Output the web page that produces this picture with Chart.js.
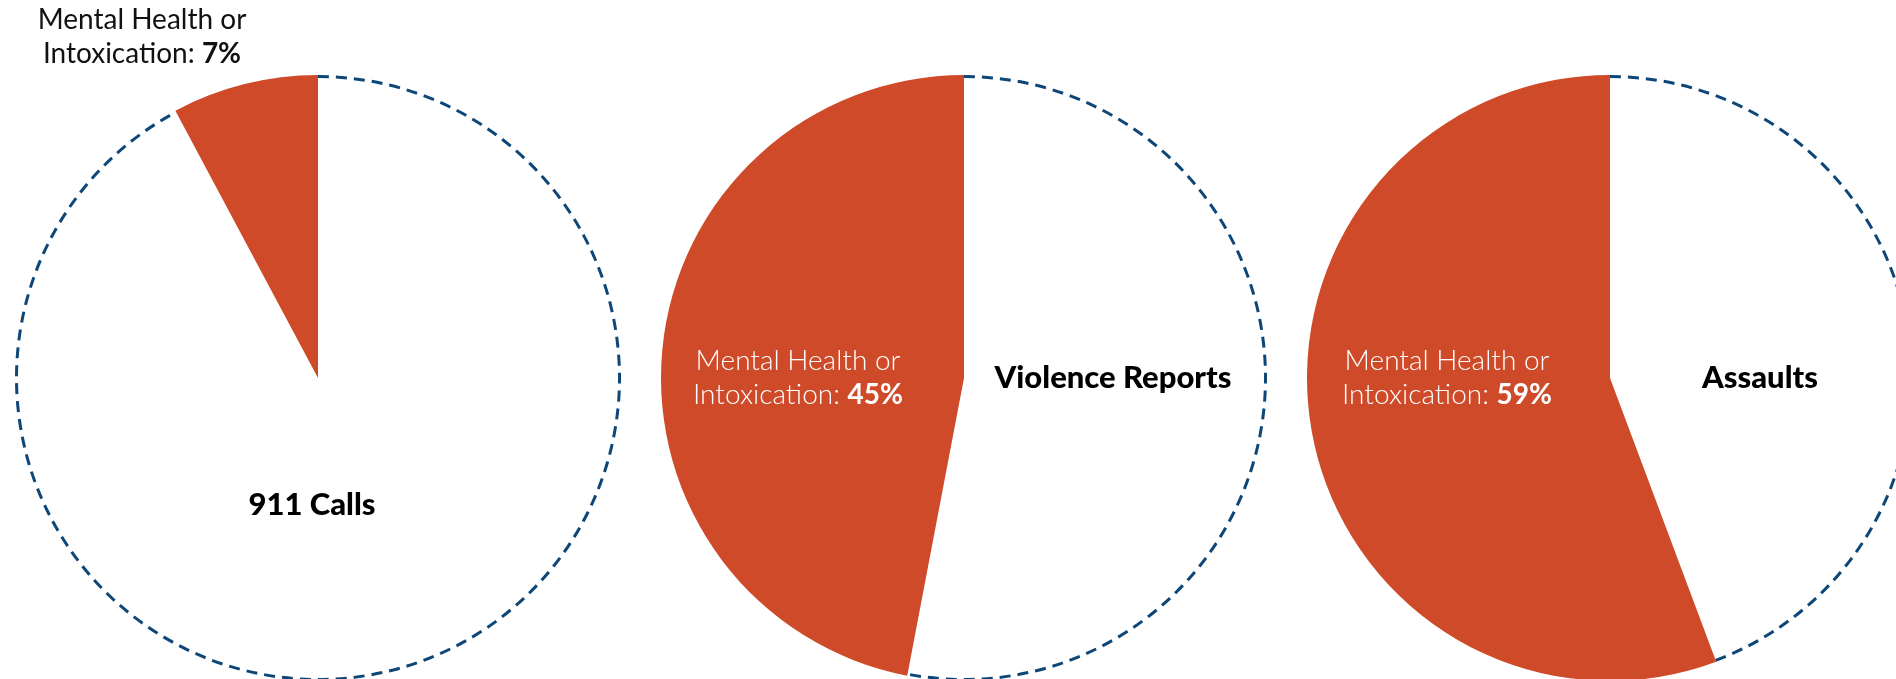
<!DOCTYPE html>
<html lang="en">
<head>
    <meta charset="UTF-8">
    <title>Mental Health or Intoxication share</title>
    <script src="https://cdn.jsdelivr.net/npm/chart.js"></script>
    <style>
        html, body { margin: 0; padding: 0; background: #fff; }
        body { width: 1896px; height: 679px; overflow: hidden; position: relative; }
        canvas { position: absolute; top: 0; }
    </style>
</head>
<body>
    <canvas id="pie1" width="640" height="756" style="left:-2px"></canvas>
    <canvas id="pie2" width="640" height="756" style="left:644px"></canvas>
    <canvas id="pie3" width="640" height="756" style="left:1290px"></canvas>

    <script>
        // data
        const categories = ['Other', 'Mental Health or Intoxication'];
        const chartTitles = ['911 Calls', 'Violence Reports', 'Assaults'];
        // printed percentages
        const mentalHealthPct = [7, 45, 59];
        // slice sizes as they are drawn in the picture (not quite the printed ones)
        const mentalHealthSlice = [7.8, 47, 55.7];
        const otherSlice = [92.2, 53, 44.3];

        const ORANGE = '#cf4a28';
        const NAVY = '#0d4677';
        const FONT = 'Lato, "Open Sans", sans-serif';

        // where the texts go, relative to the pie centre
        const labelSpots = [
            { title: [-6, 127], mh: [-176, -341], mhColor: '#111', mhWeight: 400 },
            { title: [149, 0], mh: [-166, 0], mhColor: '#fff', mhWeight: 300 },
            { title: [150, 0], mh: [-163, 0], mhColor: '#fff', mhWeight: 300 }
        ];

        // draws a line made of pieces with different weights, centred on cx
        function drawRich(ctx, parts, cx, cy, color) {
            let total = 0;
            parts.forEach(p => {
                ctx.font = p.font;
                p.w = ctx.measureText(p.text).width;
                total += p.w;
            });
            let x = cx - total / 2;
            ctx.fillStyle = color;
            ctx.textAlign = 'left';
            ctx.textBaseline = 'middle';
            parts.forEach(p => {
                ctx.font = p.font;
                ctx.fillText(p.text, x, cy);
                x += p.w;
            });
        }

        const pieDecor = {
            id: 'pieDecor',
            afterDatasetsDraw(chart) {
                const ctx = chart.ctx;
                const arcs = chart.getDatasetMeta(0).data;
                const other = arcs[0];
                const p = other.getProps(['x', 'y', 'startAngle', 'endAngle', 'outerRadius']);
                // dashed outline only along the white part
                ctx.save();
                ctx.strokeStyle = NAVY;
                ctx.lineWidth = 3;
                ctx.setLineDash([11, 7]);
                ctx.beginPath();
                ctx.arc(p.x, p.y, p.outerRadius - 1.5, p.startAngle, p.endAngle);
                ctx.stroke();
                ctx.restore();

                const i = chart.options.plugins.pieDecor.index;
                const spot = labelSpots[i];
                ctx.save();
                drawRich(ctx, [{ text: chartTitles[i], font: `900 31px ${FONT}` }],
                    p.x + spot.title[0], p.y + spot.title[1], '#000');
                const mx = p.x + spot.mh[0], my = p.y + spot.mh[1];
                drawRich(ctx, [{ text: 'Mental Health or', font: `${spot.mhWeight} 28px ${FONT}` }],
                    mx, my - 17, spot.mhColor);
                drawRich(ctx, [
                    { text: 'Intoxication: ', font: `${spot.mhWeight} 28px ${FONT}` },
                    { text: mentalHealthPct[i] + '%', font: `700 28px ${FONT}` }
                ], mx, my + 17, spot.mhColor);
                ctx.restore();
            }
        };

        function makePie(id, i) {
            const ctx = document.getElementById(id).getContext('2d');
            return new Chart(ctx, {
                type: 'pie',
                data: {
                    labels: categories,
                    datasets: [{
                        data: [otherSlice[i], mentalHealthSlice[i]],
                        backgroundColor: ['#ffffff', ORANGE],
                        borderWidth: 0
                    }]
                },
                options: {
                    responsive: false,
                    animation: false,
                    radius: 303,
                    layout: { padding: 0 },
                    plugins: {
                        legend: { display: false },
                        tooltip: { enabled: false },
                        pieDecor: { index: i }
                    }
                },
                plugins: [pieDecor]
            });
        }

        makePie('pie1', 0);
        makePie('pie2', 1);
        makePie('pie3', 2);
    </script>
</body>
</html>
